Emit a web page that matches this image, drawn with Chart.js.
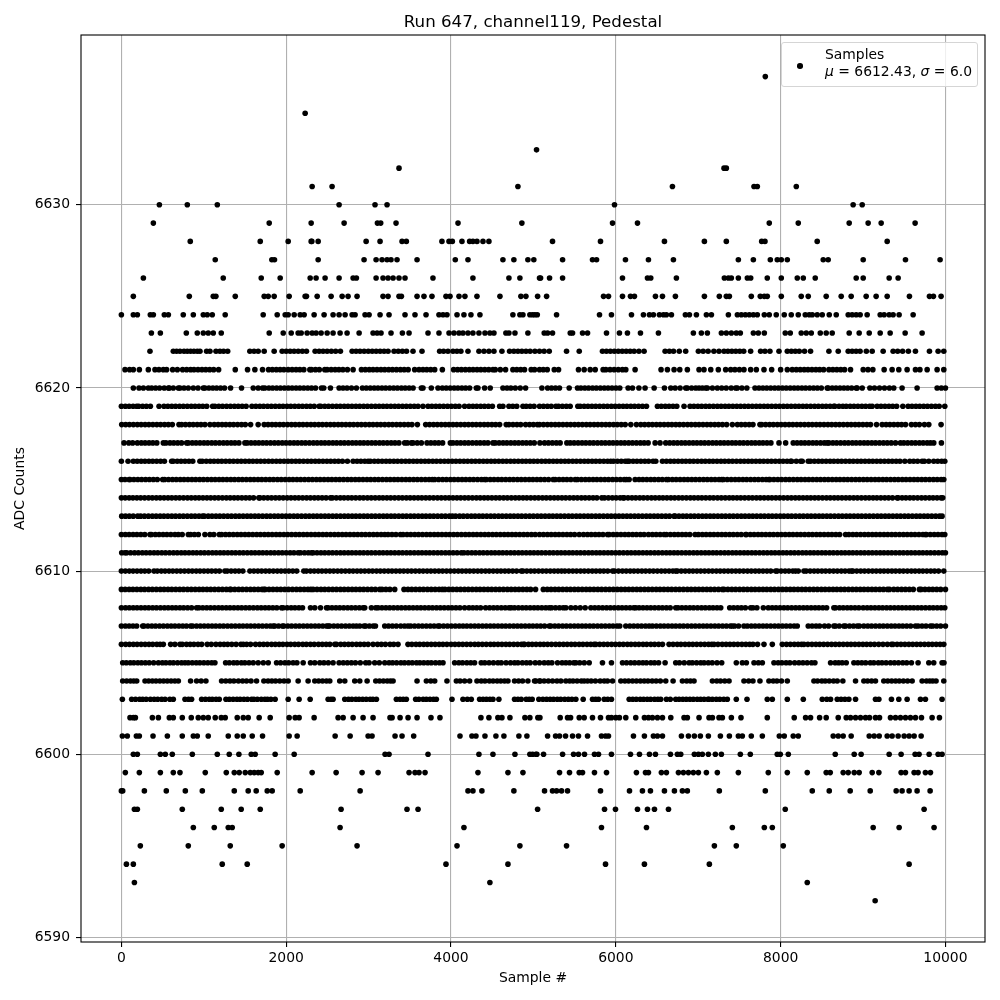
<!DOCTYPE html>
<html>
<head>
<meta charset="utf-8">
<title>Run 647, channel119, Pedestal</title>
<script src="https://cdn.jsdelivr.net/npm/chart.js@4/dist/chart.umd.min.js"></script>
<style>
  body { margin: 0; background: #fff; font-family: "DejaVu Sans", sans-serif; }
  #wrap { position: relative; width: 1000px; height: 1000px; }
  #legend {
    position: absolute; left: 781px; top: 42px; width: 195px; height: 43px;
    border: 1px solid #d5d5d5; border-radius: 3px; background: rgba(255,255,255,0.8);
    font-size: 13.9px; line-height: 17px; color: #000;
  }
  #legend .dot { position: absolute; left: 15px; top: 20px; width: 5.6px; height: 5.6px; border-radius: 50%; background: #000; }
  #legend .txt { position: absolute; left: 43px; top: 3px; white-space: nowrap; }
</style>
</head>
<body>
<div id="wrap">
  <canvas id="chart" width="1000" height="1000"></canvas>
  <div id="legend"><span class="dot"></span><div class="txt">Samples<br><i>μ</i> = 6612.43, <i>σ</i> = 6.0</div></div>
</div>
<script>
// Sample numbers, one list per ADC level
const adc6592 = [9147];
const adc6593 = [158,4472,8323];
const adc6594 = [61,145,1224,1527,3939,4691,5875,6347,7135,9559];
const adc6595 = [230,812,1321,1951,2860,4073,4836,5402,7196,7462,8032];
const adc6596 = [873,1127,1297,1345,2654,4157,5826,6372,7414,7802,7899,9123,9438,9862];
const adc6597 = [158,194,739,1212,1454,1685,2666,3466,3600,5051,5863,5996,6263,6384,6469,6639,8056,9741];
const adc6598 = [0,16,279,545,776,982,1370,1539,1636,1770,1830,2170,2897,4206,4266,4375,4763,5135,5232,5281,5341,5414,5814,6166,6323,6420,6590,6711,6808,6868,7256,7814,8384,8590,8844,9087,9402,9474,9559,9656,9814];
const adc6599 = [48,218,473,630,711,1018,1273,1370,1430,1503,1564,1612,1660,1697,1891,2315,2606,2921,3115,3491,3563,3612,3685,4327,4691,4873,5317,5438,5556,5596,5741,5887,6250,6360,6396,6553,6614,6760,6820,6881,6941,7002,7099,7232,7487,7850,8081,8323,8553,8602,8759,8820,8893,8953,9111,9192,9462,9515,9620,9668,9757,9818];
const adc6600 = [145,194,473,533,618,861,1164,1309,1426,1576,1624,1866,2097,3200,3248,3721,4339,4509,4776,4957,5042,4990,5030,5123,5354,5487,5547,5620,5741,5790,5947,6178,6287,6408,6481,6663,6747,6788,6953,7002,7050,7123,7208,7281,7511,7632,7959,7996,8093,8663,8893,8977,9317,9462,9632,9680,9802,9911,9959];
const adc6601 = [12,72,182,218,384,558,739,873,921,1054,1297,1406,1479,1588,1713,2036,2133,2594,2776,2994,3042,3321,3406,3547,4109,4254,4303,4412,4545,4642,4824,4921,5172,5269,5317,5390,5475,5547,5657,5826,5875,5911,6214,6347,6456,6505,6566,6796,6881,6953,7026,7123,7269,7378,7487,7535,7644,7778,7984,8044,8153,8214,8638,8699,8759,8856,9075,9135,9196,9293,9353,9426,9499,9559,9620,9705];
const adc6602 = [105,145,170,376,449,582,630,739,848,933,994,1054,1139,1212,1260,1406,1479,1539,1672,1806,2036,2109,2157,2339,2630,2691,2812,2933,3054,3260,3285,3382,3479,3588,3757,3866,4363,4460,4569,4618,4715,4897,4957,5054,5079,5325,5414,5451,5556,5616,5717,5814,5911,5947,6000,6044,6121,6242,6347,6396,6444,6505,6566,6667,6828,6868,7010,7131,7172,7252,7293,7402,7519,7838,8165,8303,8363,8473,8553,8699,8796,8848,8909,8969,9030,9079,9151,9200,9333,9394,9454,9515,9575,9636,9709,9838,9927];
const adc6603 = [12,125,172,221,258,301,352,398,441,489,530,588,630,772,815,852,974,1020,1066,1103,1149,1188,1269,1310,1356,1402,1441,1487,1530,1580,1608,1650,1698,1741,1773,1814,1866,2024,2157,2291,2509,2544,2569,2711,2756,2797,2845,2884,2928,2971,3018,3052,3095,3337,3381,3420,3458,3571,3610,3662,3701,3745,3788,3822,4012,4145,4198,4246,4347,4389,4430,4472,4509,4581,4771,4812,4852,4913,4949,4985,5066,5115,5160,5203,5244,5290,5331,5380,5424,5467,5515,5604,5717,5755,5790,5859,5902,5947,6162,6205,6248,6296,6337,6381,6422,6470,6510,6545,6614,6661,6727,6768,6813,6855,6899,6941,6988,7029,7071,7118,7131,7172,7219,7262,7310,7353,7462,7592,7838,7899,8081,8275,8505,8560,8606,8687,8733,8780,8828,8909,9151,9192,9345,9434,9535,9697,9757,9959];
const adc6604 = [16,64,110,150,186,287,331,376,420,467,512,557,603,649,691,840,913,968,1026,1216,1267,1318,1365,1420,1471,1519,1573,1640,1729,1780,1826,1871,1922,1974,2024,2145,2266,2347,2394,2441,2489,2529,2650,2711,2832,2893,2982,3087,3133,3180,3226,3265,3297,3588,3701,3755,3802,3951,4065,4110,4165,4226,4315,4367,4412,4466,4511,4560,4604,4650,4691,4771,4820,4868,4933,5014,5074,5030,5082,5130,5181,5232,5286,5333,5394,5440,5481,5530,5581,5616,5657,5701,5752,5810,5859,5899,5960,6061,6110,6155,6203,6250,6298,6345,6390,6441,6489,6540,6606,6695,6808,6860,6905,6949,7172,7225,7270,7322,7374,7555,7612,7664,7749,7858,7910,7955,8010,8081,8404,8448,8500,8541,8590,8642,8687,8755,8909,9010,9055,9104,9151,9252,9300,9348,9395,9440,9490,9541,9596,9717,9770,9810,9846,9886,9980];
const adc6605 = [16,60,108,151,200,244,291,338,392,449,497,540,589,632,682,730,772,812,860,908,952,1001,1049,1096,1135,1265,1310,1362,1405,1456,1498,1549,1600,1660,1722,1782,1883,1932,1985,2030,2084,2130,2206,2295,2347,2408,2458,2511,2569,2642,2693,2742,2791,2840,2899,2965,3006,3074,3130,3196,3248,3291,3340,3392,3436,3485,3530,3581,3622,3670,3718,3761,3812,3860,3903,4044,4095,4140,4192,4240,4286,4367,4410,4462,4515,4569,4610,4668,4722,4771,4812,4866,4915,4961,5022,5074,5131,5180,5224,5293,5348,5394,5440,5490,5515,5562,5617,5677,5838,5947,6081,6130,6181,6229,6280,6328,6372,6425,6470,6519,6598,6727,6772,6830,6889,6929,6980,7030,7071,7122,7170,7228,7285,7462,7535,7584,7677,7730,7778,7919,7970,8015,8066,8112,8170,8222,8271,8322,8375,8416,8606,8662,8704,8747,8796,8889,8937,8985,9032,9088,9131,9185,9230,9280,9333,9381,9430,9482,9530,9587,9668,9798,9858,9959,9982];
const adc6606 = [0,52,98,145,191,240,288,335,380,430,470,509,598,650,711,739,790,835,880,930,975,1042,1091,1147,1198,1245,1290,1340,1392,1450,1479,1520,1568,1628,1678,1725,1771,1822,1868,1915,1960,2010,2055,2104,2150,2201,2245,2294,2340,2392,2438,2485,2530,2590,2610,2662,2708,2755,2801,2852,2898,2946,2994,3054,3108,3155,3204,3260,3305,3357,3478,3525,3575,3620,3668,3712,3760,3808,3856,3902,3950,4001,4048,4095,4142,4190,4238,4288,4332,4380,4428,4478,4522,4570,4618,4666,4712,4761,4808,4855,4880,4893,4940,4985,5032,5081,5126,5172,5220,5270,5316,5364,5410,5459,5505,5555,5601,5650,5696,5737,5758,5805,5853,5900,5949,5996,6044,6091,6140,6185,6234,6280,6330,6375,6425,6471,6520,6566,6646,6695,6745,6790,6840,6888,6934,6982,7030,7078,7125,7164,7192,7240,7291,7338,7385,7432,7480,7530,7578,7624,7664,7720,7798,7899,8020,8071,8118,8166,8212,8254,8283,8331,8380,8428,8474,8522,8570,8618,8665,8712,8760,8808,8854,8902,8950,8998,9044,9091,9139,9190,9242,9295,9345,9365,9413,9460,9508,9556,9603,9651,9698,9746,9794,9840,9888,9935,9980];
const adc6607 = [0,48,94,141,186,259,275,322,370,415,463,510,558,604,650,698,745,790,840,864,912,958,1005,1052,1100,1146,1194,1240,1288,1335,1382,1430,1476,1524,1570,1618,1665,1712,1760,1806,1842,1862,1908,1955,1972,2020,2066,2114,2160,2208,2255,2302,2350,2396,2444,2490,2509,2529,2578,2625,2672,2720,2766,2812,2852,2893,2945,2965,3010,3056,3083,3196,3242,3289,3337,3390,3436,3478,3511,3558,3605,3652,3700,3748,3795,3842,3862,3910,3957,4004,4052,4100,4146,4192,4240,4288,4334,4382,4428,4476,4522,4570,4618,4664,4712,4760,4806,4852,4900,4948,4994,5042,5088,5136,5192,5212,5260,5306,5354,5400,5448,5496,5542,5590,5636,5684,5730,5778,5825,5872,5920,5966,6014,6048,6121,6170,6218,6266,6312,6360,6404,6444,6492,6540,6586,6634,6682,6728,6776,6822,6870,6918,6964,7012,7060,7106,7154,7202,7248,7296,7342,7390,7414,7442,7490,7555,7596,7644,7690,7738,7786,7832,7880,7928,7974,8022,8068,8116,8164,8202,8335,8382,8430,8473,8533,8582,8646,8666,8712,8767,8788,8836,8884,8930,8957,9010,9058,9104,9152,9200,9246,9294,9342,9388,9436,9482,9530,9578,9636,9668,9716,9764,9818,9846,9894,9942,10000];
const adc6608 = [0,50,96,144,190,238,286,332,380,426,474,522,568,616,662,710,756,804,852,913,941,988,1036,1082,1130,1178,1224,1272,1318,1366,1414,1460,1508,1554,1602,1650,1696,1744,1790,1838,1886,1943,1963,2012,2060,2106,2154,2198,2295,2347,2416,2489,2509,2556,2604,2650,2698,2746,2792,2840,2888,2934,2953,3034,3087,3115,3162,3210,3256,3304,3352,3398,3446,3492,3540,3588,3634,3682,3730,3776,3824,3870,3918,3966,4012,4060,4108,4165,4218,4265,4312,4359,4420,4468,4516,4562,4610,4658,4704,4731,4771,4818,4866,4912,4960,5008,5054,5102,5150,5192,5220,5268,5316,5362,5394,5455,5510,5568,5628,5697,5745,5792,5840,5888,5934,5982,6030,6076,6124,6172,6218,6242,6283,6330,6378,6424,6472,6520,6566,6614,6660,6727,6755,6802,6850,6898,6944,6992,7040,7086,7134,7180,7228,7273,7382,7430,7478,7524,7572,7636,7664,7712,7790,7850,7898,7944,7992,8040,8086,8134,8182,8228,8276,8322,8370,8418,8464,8512,8558,8646,8666,8714,8760,8808,8854,8902,8949,9002,9050,9096,9144,9192,9238,9286,9332,9380,9428,9474,9522,9570,9616,9664,9710,9758,9806,9852,9900,9948,9992];
const adc6609 = [0,46,94,140,188,236,282,330,376,424,472,518,566,612,660,708,754,802,848,896,944,990,1038,1084,1132,1180,1226,1274,1317,1329,1376,1424,1470,1518,1566,1612,1660,1706,1729,1745,1792,1840,1888,1934,1982,2028,2076,2124,2170,2218,2264,2299,2327,2374,2422,2468,2516,2564,2610,2658,2704,2752,2800,2846,2894,2940,2988,3036,3082,3135,3163,3210,3258,3317,3430,3478,3524,3572,3620,3666,3714,3760,3808,3856,3895,3927,3974,4022,4070,4116,4164,4210,4258,4306,4352,4400,4448,4494,4542,4588,4636,4684,4730,4778,4824,4872,4920,4966,5026,5120,5168,5214,5262,5308,5356,5404,5450,5498,5544,5592,5640,5686,5734,5782,5828,5876,5922,5970,6018,6064,6112,6158,6206,6254,6300,6348,6394,6442,6490,6536,6584,6632,6678,6726,6772,6820,6868,6914,6962,7008,7056,7104,7150,7198,7246,7293,7313,7360,7408,7454,7502,7550,7596,7644,7690,7738,7786,7832,7880,7926,7974,8022,8068,8116,8162,8210,8258,8304,8352,8400,8446,8494,8540,8588,8636,8682,8730,8776,8824,8872,8918,8966,9012,9060,9108,9154,9202,9248,9296,9321,9373,9420,9468,9514,9562,9610,9684,9705,9752,9800,9846,9894,9942,10000];
const adc6610 = [0,48,96,142,190,238,284,332,396,436,484,530,578,624,672,718,766,814,860,908,954,1002,1050,1096,1144,1190,1256,1285,1332,1380,1426,1474,1560,1608,1656,1702,1750,1796,1844,1892,1938,1986,2032,2080,2128,2214,2246,2294,2340,2388,2434,2482,2530,2576,2624,2670,2718,2766,2812,2860,2906,2954,3002,3048,3096,3142,3190,3238,3284,3332,3380,3426,3474,3520,3568,3616,3662,3710,3756,3804,3852,3898,3946,3992,4040,4088,4134,4182,4228,4276,4324,4370,4418,4464,4512,4560,4606,4654,4700,4748,4796,4852,4873,4920,4968,5014,5062,5110,5156,5204,5252,5298,5341,5382,5430,5478,5524,5572,5618,5666,5714,5760,5808,5854,5902,5960,5984,6032,6080,6126,6174,6220,6268,6316,6362,6410,6456,6504,6552,6598,6646,6692,6727,6747,6794,6842,6890,6936,6984,7030,7078,7126,7172,7220,7266,7314,7362,7408,7456,7502,7550,7598,7644,7692,7738,7786,7834,7880,7939,7959,8006,8054,8100,8148,8181,8214,8283,8311,8358,8406,8452,8500,8546,8594,8642,8688,8736,8782,8830,8860,8877,8924,8972,9018,9066,9114,9160,9208,9254,9302,9350,9396,9444,9490,9538,9586,9632,9680,9726,9774,9822,9868,9916,9980];
const adc6611 = [4,44,65,112,160,206,254,300,348,396,442,490,536,584,632,678,726,772,820,868,914,962,1008,1056,1104,1150,1198,1244,1292,1340,1386,1434,1480,1528,1576,1622,1670,1716,1764,1812,1858,1906,1952,2000,2048,2094,2145,2174,2222,2268,2307,2327,2374,2422,2468,2516,2562,2610,2658,2704,2752,2798,2846,2894,2940,2988,3034,3082,3130,3176,3224,3270,3318,3366,3412,3460,3506,3554,3602,3648,3696,3742,3790,3838,3884,3932,3978,4026,4074,4125,4157,4204,4252,4298,4346,4392,4440,4488,4534,4582,4628,4676,4724,4770,4818,4864,4912,4960,5006,5054,5100,5148,5196,5242,5290,5336,5384,5432,5478,5526,5572,5620,5668,5714,5762,5808,5856,5904,5950,5998,6044,6092,6140,6186,6234,6280,6328,6376,6422,6470,6516,6564,6612,6658,6706,6752,6800,6848,6894,6942,6988,7036,7084,7130,7178,7224,7272,7320,7366,7414,7460,7508,7556,7602,7650,7696,7744,7792,7838,7886,7932,7980,8028,8074,8122,8168,8216,8264,8310,8358,8404,8452,8500,8546,8594,8640,8688,8736,8782,8830,8876,8924,8972,9018,9066,9112,9160,9208,9254,9302,9348,9396,9444,9490,9538,9584,9632,9680,9726,9774,9820,9868,9916,9962,10000];
const adc6612 = [0,48,94,142,188,236,284,347,364,412,458,506,552,600,650,691,738,812,840,886,934,1014,1075,1122,1188,1216,1264,1310,1358,1406,1452,1500,1546,1594,1642,1688,1736,1782,1830,1878,1924,1972,2018,2066,2114,2160,2208,2254,2302,2350,2396,2444,2490,2538,2586,2632,2680,2726,2774,2822,2868,2916,2962,3010,3058,3104,3152,3196,3236,3284,3332,3386,3418,3466,3512,3560,3606,3654,3702,3748,3796,3842,3890,3938,3984,4032,4078,4126,4174,4220,4268,4314,4362,4410,4456,4504,4550,4598,4646,4692,4740,4786,4834,4882,4928,4976,5022,5074,5122,5170,5216,5264,5310,5358,5406,5452,5500,5556,5608,5656,5702,5750,5796,5844,5899,5919,5968,6014,6062,6110,6156,6204,6250,6298,6343,6396,6444,6490,6538,6586,6614,6662,6710,6756,6804,6850,6898,6962,7002,7050,7096,7144,7190,7238,7286,7332,7380,7426,7474,7522,7576,7584,7632,7678,7726,7772,7820,7868,7914,7962,8008,8056,8104,8150,8198,8244,8292,8340,8386,8434,8480,8528,8576,8622,8670,8716,8788,8828,8876,8922,8970,9018,9064,9112,9158,9206,9254,9300,9348,9394,9442,9490,9536,9584,9630,9678,9726,9757,9769,9816,9864,9910,9958,9992];
const adc6613 = [4,50,96,144,198,234,280,328,376,422,470,516,564,612,658,706,752,800,848,894,942,986,1006,1054,1100,1148,1194,1242,1290,1336,1384,1430,1478,1526,1572,1620,1666,1714,1762,1808,1856,1902,1950,1998,2044,2092,2138,2186,2234,2280,2328,2374,2422,2470,2516,2564,2610,2658,2706,2752,2800,2846,2894,2942,2988,3036,3082,3130,3178,3224,3272,3318,3366,3414,3460,3508,3554,3602,3650,3696,3744,3790,3838,3886,3932,3980,4016,4056,4104,4150,4198,4246,4292,4340,4386,4434,4482,4528,4576,4622,4670,4718,4764,4812,4858,4906,4954,5000,5048,5094,5142,5190,5236,5284,5330,5378,5426,5472,5520,5566,5614,5662,5708,5756,5802,5850,5898,5944,5992,6038,6086,6134,6180,6228,6274,6322,6370,6416,6464,6510,6558,6606,6652,6707,6719,6766,6814,6860,6908,6954,7002,7050,7096,7144,7190,7238,7286,7332,7380,7426,7474,7522,7568,7616,7662,7710,7758,7804,7852,7898,7946,7994,8040,8088,8134,8182,8230,8276,8324,8370,8418,8466,8512,8560,8606,8654,8702,8748,8796,8842,8890,8938,8984,9032,9078,9126,9174,9220,9268,9314,9362,9410,9456,9504,9550,9598,9646,9692,9740,9786,9834,9882,9928,9959];
const adc6614 = [0,46,94,140,188,234,282,330,376,424,470,518,566,612,660,706,754,802,848,896,942,990,1038,1084,1132,1178,1226,1274,1320,1368,1414,1462,1510,1556,1604,1668,1681,1728,1776,1822,1870,1916,1964,2012,2058,2106,2152,2200,2248,2294,2342,2388,2436,2484,2537,2561,2608,2656,2702,2750,2796,2844,2892,2938,2986,3032,3080,3128,3174,3222,3268,3316,3364,3410,3458,3504,3552,3600,3646,3694,3740,3788,3836,3882,3930,3976,4024,4072,4118,4166,4212,4260,4308,4354,4402,4448,4496,4544,4590,4638,4684,4732,4780,4826,4874,4920,4968,5016,5062,5110,5156,5204,5252,5298,5346,5392,5440,5488,5534,5582,5628,5676,5724,5770,5830,5863,5910,5958,6004,6052,6089,6101,6148,6196,6242,6290,6336,6384,6432,6478,6526,6572,6620,6668,6714,6762,6808,6856,6904,6950,6998,7044,7092,7140,7186,7234,7280,7328,7376,7422,7470,7516,7564,7612,7658,7706,7752,7800,7848,7894,7942,7988,8036,8084,8130,8178,8224,8272,8320,8366,8414,8460,8508,8556,8602,8650,8696,8744,8792,8838,8886,8932,8980,9028,9074,9122,9168,9216,9264,9310,9358,9414,9426,9474,9520,9568,9614,9662,9710,9756,9804,9850,9898,9946,9967];
const adc6615 = [0,44,93,105,152,200,246,294,340,388,436,501,525,572,620,666,714,760,808,856,902,950,996,1044,1092,1138,1186,1232,1280,1328,1374,1422,1468,1516,1564,1610,1658,1704,1752,1800,1846,1894,1940,1988,2036,2082,2130,2176,2224,2272,2318,2366,2412,2460,2508,2554,2602,2648,2696,2744,2790,2838,2884,2932,2980,3026,3074,3120,3168,3216,3262,3310,3356,3404,3452,3498,3546,3592,3640,3688,3734,3773,3802,3850,3898,3944,3992,4038,4086,4134,4180,4228,4274,4322,4370,4408,4428,4476,4522,4570,4616,4664,4712,4758,4806,4852,4900,4948,4994,5042,5088,5136,5184,5240,5265,5312,5360,5406,5454,5507,5535,5582,5630,5676,5724,5770,5818,5866,5912,5960,6006,6054,6102,6129,6162,6234,6282,6328,6376,6424,6470,6518,6564,6614,6638,6686,6732,6780,6828,6874,6922,6968,7016,7064,7110,7158,7204,7252,7285,7305,7352,7400,7448,7494,7542,7588,7636,7684,7730,7778,7824,7858,7870,7918,7966,8012,8060,8106,8154,8202,8248,8296,8342,8390,8438,8484,8532,8578,8626,8674,8720,8768,8814,8862,8910,8956,9004,9050,9098,9146,9192,9240,9286,9334,9382,9428,9476,9522,9570,9618,9664,9712,9758,9806,9854,9900,9948,9980];
const adc6616 = [0,81,145,192,240,286,334,380,428,476,522,610,630,678,724,772,820,866,953,982,1030,1078,1124,1172,1218,1266,1314,1360,1408,1454,1502,1550,1596,1644,1690,1738,1786,1832,1880,1926,1974,2022,2068,2116,2162,2210,2258,2304,2352,2398,2446,2494,2540,2588,2634,2682,2743,2812,2860,2906,2954,2994,3022,3070,3116,3164,3212,3258,3306,3352,3400,3448,3494,3542,3588,3636,3684,3730,3778,3824,3872,3920,3966,4014,4060,4108,4156,4202,4250,4296,4344,4392,4438,4486,4532,4580,4628,4674,4722,4768,4816,4864,4910,4958,5004,5050,5099,5146,5192,5240,5286,5334,5382,5428,5476,5522,5570,5618,5664,5712,5758,5806,5854,5900,5939,5972,6020,6066,6114,6141,6162,6210,6256,6304,6352,6398,6452,6485,6566,6614,6662,6708,6756,6804,6850,6898,6944,6992,7040,7086,7134,7180,7228,7276,7322,7370,7416,7464,7512,7558,7606,7652,7700,7748,7794,7842,7888,7936,7984,8030,8078,8121,8133,8190,8242,8262,8335,8363,8410,8458,8504,8552,8600,8646,8694,8740,8788,8836,8882,8930,8976,9024,9072,9118,9166,9212,9260,9308,9354,9402,9448,9507,9567,9614,9662,9717,9745,9798,9858,9906,9954,9992];
const adc6617 = [32,90,137,194,242,288,336,382,430,509,541,590,636,684,730,792,812,860,906,954,1002,1048,1096,1142,1190,1238,1284,1332,1378,1426,1499,1527,1574,1622,1668,1716,1762,1810,1858,1904,1952,1998,2046,2094,2140,2188,2234,2282,2330,2376,2424,2470,2518,2566,2612,2660,2706,2754,2802,2848,2896,2942,2990,3038,3084,3132,3178,3226,3274,3320,3368,3438,3470,3519,3539,3590,3640,3709,3756,3804,3850,3898,3992,4024,4072,4118,4166,4212,4260,4308,4354,4402,4448,4509,4537,4584,4632,4678,4726,4774,4820,4868,4914,4962,5010,5079,5135,5182,5230,5278,5324,5406,5447,5494,5542,5590,5636,5684,5730,5778,5826,5872,5920,5966,6014,6062,6108,6156,6202,6250,6298,6344,6392,6477,6537,6606,6654,6702,6748,6796,6842,6890,6938,6984,7032,7078,7126,7174,7220,7268,7314,7362,7410,7456,7504,7550,7598,7646,7692,7740,7786,7834,7882,7980,8061,8153,8200,8248,8294,8342,8390,8436,8484,8530,8565,8586,8634,8680,8728,8776,8822,8870,8916,8964,9012,9058,9106,9152,9200,9248,9294,9342,9394,9454,9495,9542,9590,9636,9684,9730,9778,9818,9858,9951];
const adc6618 = [4,52,98,146,194,240,288,334,382,430,476,524,570,618,699,731,778,826,872,920,966,1014,1075,1127,1174,1222,1268,1316,1362,1410,1458,1504,1568,1660,1733,1780,1828,1874,1922,1968,2016,2064,2110,2158,2204,2252,2300,2346,2394,2440,2488,2536,2582,2630,2676,2724,2772,2818,2866,2912,2960,3008,3054,3102,3148,3196,3244,3290,3338,3384,3432,3480,3526,3592,3693,3740,3788,3834,3882,3930,3976,4024,4070,4118,4166,4212,4260,4306,4354,4402,4448,4496,4542,4590,4670,4703,4752,4800,4846,4905,4953,5000,5048,5074,5122,5170,5216,5264,5310,5358,5406,5452,5500,5546,5594,5642,5688,5736,5782,5830,5878,5924,5972,6018,6066,6114,6182,6250,6303,6350,6398,6444,6492,6538,6586,6634,6680,6728,6774,6822,6870,6916,6964,7010,7058,7106,7152,7200,7246,7294,7345,7414,7475,7522,7570,7618,7664,7749,7770,7818,7866,7912,7960,8006,8054,8102,8148,8196,8242,8290,8338,8384,8432,8478,8526,8574,8620,8668,8714,8762,8810,8856,8904,8950,8998,9046,9091,9164,9232,9280,9326,9374,9422,9468,9516,9587,9636,9684,9745,9798,9947];
const adc6619 = [0,48,94,142,186,210,258,304,352,457,517,564,612,658,706,752,800,848,894,942,988,1036,1107,1135,1182,1228,1277,1324,1372,1418,1466,1514,1584,1632,1680,1726,1774,1820,1868,1916,1962,2010,2056,2104,2152,2198,2246,2292,2340,2400,2420,2468,2514,2562,2610,2656,2704,2750,2798,2846,2892,2940,2986,3034,3082,3128,3176,3222,3270,3318,3364,3412,3458,3506,3554,3600,3660,3721,3768,3816,3862,3910,3958,4004,4052,4098,4165,4218,4266,4312,4360,4406,4454,4502,4590,4630,4703,4750,4798,4873,4913,4960,5008,5074,5122,5170,5216,5273,5305,5352,5400,5446,5539,5568,5616,5662,5710,5756,5804,5852,5898,5946,5992,6040,6088,6134,6182,6228,6276,6324,6372,6505,6552,6600,6646,6694,6740,6828,6901,6948,6996,7042,7090,7136,7184,7232,7278,7326,7372,7420,7468,7514,7562,7608,7656,7704,7750,7798,7844,7892,7940,7986,8034,8080,8128,8176,8222,8270,8316,8364,8412,8458,8506,8552,8600,8646,8658,8708,8755,8796,8844,8890,8938,8986,9032,9080,9111,9171,9218,9266,9314,9360,9408,9483,9547,9594,9642,9688,9736,9782,9830,9878,9924,9992];
const adc6620 = [145,214,267,327,368,416,464,520,570,582,630,691,711,760,812,873,930,994,1014,1062,1110,1156,1204,1252,1325,1458,1600,1660,1713,1741,1790,1836,1884,1930,1978,2026,2072,2120,2166,2214,2262,2308,2356,2428,2456,2537,2642,2690,2738,2792,2852,2925,2972,3020,3068,3114,3162,3208,3256,3304,3350,3398,3444,3492,3540,3640,3660,3761,3842,3895,3942,3990,4038,4084,4132,4178,4226,4307,4327,4408,4476,4630,4680,4726,4780,4840,4905,5103,5172,5220,5268,5316,5434,5535,5576,5624,5670,5718,5764,5812,5860,5906,5954,6002,6048,6149,6202,6280,6355,6465,6590,6667,6720,6780,6848,6868,6920,6970,7010,7050,7091,7111,7172,7232,7285,7340,7400,7454,7475,7530,7590,7689,7737,7785,7832,7880,7928,7974,8022,8068,8116,8164,8210,8258,8304,8352,8400,8446,8494,8565,8578,8626,8672,8720,8768,8814,8862,8917,8929,8990,9083,9139,9200,9260,9320,9373,9474,9656,9899,9950,10000];
const adc6621 = [44,100,145,218,327,408,456,509,549,622,679,743,792,840,881,930,978,1024,1072,1120,1180,1382,1531,1620,1713,1786,1832,1880,1926,1972,2024,2072,2120,2166,2214,2287,2307,2355,2402,2468,2497,2546,2594,2640,2688,2743,2812,2913,2960,3008,3054,3102,3150,3196,3244,3290,3338,3386,3432,3480,3559,3612,3660,3706,3754,3802,3895,4032,4080,4126,4174,4222,4268,4316,4362,4410,4458,4509,4537,4598,4662,4751,4798,4846,4892,4973,5014,5074,5120,5168,5253,5305,5547,5616,5689,5750,5846,5879,5930,5980,6030,6080,6121,6234,6549,6626,6707,6776,6868,7010,7070,7152,7244,7333,7394,7445,7500,7555,7636,7705,7798,7891,8000,8081,8141,8190,8238,8286,8332,8380,8428,8474,8522,8586,8634,8682,8730,8776,8848,9002,9060,9119,9256,9353,9434,9535,9636,9690,9778,9899,9980];
const adc6622 = [347,630,670,711,760,800,840,880,921,954,1034,1075,1148,1196,1240,1290,1559,1610,1660,1733,1854,1951,2000,2048,2096,2146,2196,2246,2351,2400,2448,2497,2548,2600,2658,2800,2848,2896,2946,2996,3044,3092,3140,3188,3236,3309,3360,3410,3460,3539,3648,3862,3910,3963,4024,4072,4120,4206,4339,4400,4460,4521,4618,4711,4763,4812,4860,4910,4960,5018,5074,5130,5192,5402,5556,5838,5886,5934,5982,6030,6078,6126,6174,6222,6280,6343,6598,6650,6700,6770,6848,7002,7060,7120,7190,7252,7313,7360,7408,7456,7504,7552,7636,7757,7810,7870,7980,8081,8130,8178,8226,8290,8363,8586,8699,8820,8868,8916,8964,9040,9111,9244,9365,9420,9480,9550,9636,9806,9911,9980];
const adc6623 = [364,473,788,921,994,1054,1115,1212,1794,1964,2061,2145,2182,2254,2315,2363,2424,2497,2569,2654,2739,2885,3054,3103,3151,3272,3410,3491,3721,3854,3976,4036,4097,4145,4206,4266,4339,4412,4472,4521,4666,4703,4776,4933,5131,5172,5232,5447,5475,5596,5657,5887,6044,6141,6299,6517,6941,7038,7111,7281,7341,7402,7462,7511,7669,7729,7802,8056,8117,8250,8311,8372,8481,8553,8626,8832,8953,9075,9208,9329,9511,9717];
const adc6624 = [0,145,194,351,388,521,570,751,873,994,1042,1103,1260,1721,1891,1988,2024,2097,2170,2218,2339,2460,2569,2642,2715,2800,2836,2957,3006,3139,3248,3442,3563,3697,3854,3903,3951,4073,4157,4242,4351,4751,4836,4873,4957,5018,4990,5047,5281,5802,5947,6190,6335,6408,6456,6529,6578,6614,6675,6844,6893,6978,7099,7160,7366,7475,7523,7572,7620,7669,7717,7802,7862,7947,8044,8129,8214,8299,8347,8384,8444,8505,8590,8675,8820,8868,8917,8965,9050,9208,9256,9317,9365,9438,9608];
const adc6625 = [145,824,1115,1147,1382,1733,1782,1854,2036,2230,2246,2376,2545,2679,2751,2860,3175,3236,3369,3398,3588,3672,3769,3939,3988,4097,4169,4315,4594,4848,4909,5051,5160,5851,5911,6081,6178,6226,6481,6566,6723,7075,7256,7341,7378,7644,7753,7802,7838,8008,8250,8335,8553,8735,8856,9038,9159,9293,9563,9806,9854,9947];
const adc6626 = [267,1236,1697,1927,2291,2363,2472,2642,2812,2852,3091,3175,3236,3297,3369,3442,3781,4266,4703,4836,5074,5087,5196,5354,6081,6384,6424,6735,7317,7366,7402,7487,7596,7637,7838,8008,8202,8275,8420,8917,9002,9317,9426];
const adc6627 = [1139,1826,1858,2388,2945,3091,3163,3224,3272,3345,3588,4052,4206,4630,4763,4933,5005,5354,5717,5766,6117,6396,6699,7487,7669,7875,7959,8008,8081,8517,8577,9002,9515,9935];
const adc6628 = [836,1685,2024,2303,2311,2388,2970,3139,3406,3458,3890,3976,4016,4133,4226,4266,4315,4388,4460,5232,5814,6590,7075,7341,7770,7810,8444,9293];
const adc6629 = [388,1794,2303,2703,3107,3147,3333,4085,4860,5960,6263,7862,8214,8832,9062,9220,9632];
const adc6630 = [461,800,1164,2642,3078,3224,5984,8880,8990];
const adc6631 = [2315,2557,4812,6687,7677,7717,8190];
const adc6632 = [3369,7313,7341];
const adc6633 = [5038];
const adc6635 = [2230];
const adc6637 = [7814];

const levels = [6592,6593,6594,6595,6596,6597,6598,6599,6600,6601,6602,6603,6604,6605,6606,6607,6608,6609,6610,6611,6612,6613,6614,6615,6616,6617,6618,6619,6620,6621,6622,6623,6624,6625,6626,6627,6628,6629,6630,6631,6632,6633,6635,6637];
const samplesByLevel = [adc6592,adc6593,adc6594,adc6595,adc6596,adc6597,adc6598,adc6599,adc6600,adc6601,adc6602,adc6603,adc6604,adc6605,adc6606,adc6607,adc6608,adc6609,adc6610,adc6611,adc6612,adc6613,adc6614,adc6615,adc6616,adc6617,adc6618,adc6619,adc6620,adc6621,adc6622,adc6623,adc6624,adc6625,adc6626,adc6627,adc6628,adc6629,adc6630,adc6631,adc6632,adc6633,adc6635,adc6637];

const xTicks = [0,2000,4000,6000,8000,10000];
const yTicks = [6590,6600,6610,6620,6630];

const points = [];
levels.forEach((level, i) => {
  samplesByLevel[i].forEach(s => points.push({ x: s, y: level }));
});

// Black frame on all four sides, like the original axes box
const frame = {
  id: 'frame',
  afterDatasetsDraw(chart) {
    const a = chart.chartArea, c = chart.ctx;
    c.save();
    c.strokeStyle = '#000';
    c.lineWidth = 1.1;
    c.strokeRect(a.left, a.top, a.right - a.left, a.bottom - a.top);
    c.restore();
  }
};

const tickFont = { family: '"DejaVu Sans"', size: 13.9 };

new Chart(document.getElementById('chart').getContext('2d'), {
  type: 'scatter',
  data: {
    datasets: [{
      label: 'Samples',
      data: points,
      backgroundColor: '#000',
      borderWidth: 0,
      pointRadius: 2.8,
      pointHoverRadius: 2.8
    }]
  },
  options: {
    responsive: false,
    animation: false,
    layout: { padding: { top: 0, right: 15, bottom: 0, left: 0 } },
    plugins: {
      legend: { display: false },
      tooltip: { enabled: false },
      title: {
        display: true,
        fullSize: false,
        text: 'Run 647, channel119, Pedestal',
        color: '#000',
        font: { family: '"DejaVu Sans"', size: 16.67, weight: 'normal' },
        padding: { top: 13, bottom: 2 }
      }
    },
    scales: {
      x: {
        type: 'linear',
        min: -490,
        max: 10480,
        afterFit(scale) { scale.height = 58; },
        afterBuildTicks(scale) { scale.ticks = xTicks.map(v => ({ value: v })); },
        grid: { color: '#b0b0b0', lineWidth: 1.1, tickColor: '#000', tickLength: 5 },
        border: { display: false },
        ticks: { color: '#000', font: tickFont, maxRotation: 0, autoSkip: false, padding: 3, callback: v => String(v) },
        title: { display: true, text: 'Sample #', color: '#000', font: tickFont, padding: { top: 4, bottom: 13 } }
      },
      y: {
        type: 'linear',
        min: 6589.75,
        max: 6639.27,
        afterFit(scale) { scale.width = 81; },
        afterBuildTicks(scale) { scale.ticks = yTicks.map(v => ({ value: v })); },
        grid: { color: '#b0b0b0', lineWidth: 1.1, tickColor: '#000', tickLength: 5 },
        border: { display: false },
        ticks: { color: '#000', font: tickFont, autoSkip: false, padding: 6, callback: v => String(v) },
        title: { display: true, text: 'ADC Counts', color: '#000', font: tickFont, padding: { top: 12, bottom: 4 } }
      }
    }
  },
  plugins: [frame]
});
</script>
</body>
</html>
